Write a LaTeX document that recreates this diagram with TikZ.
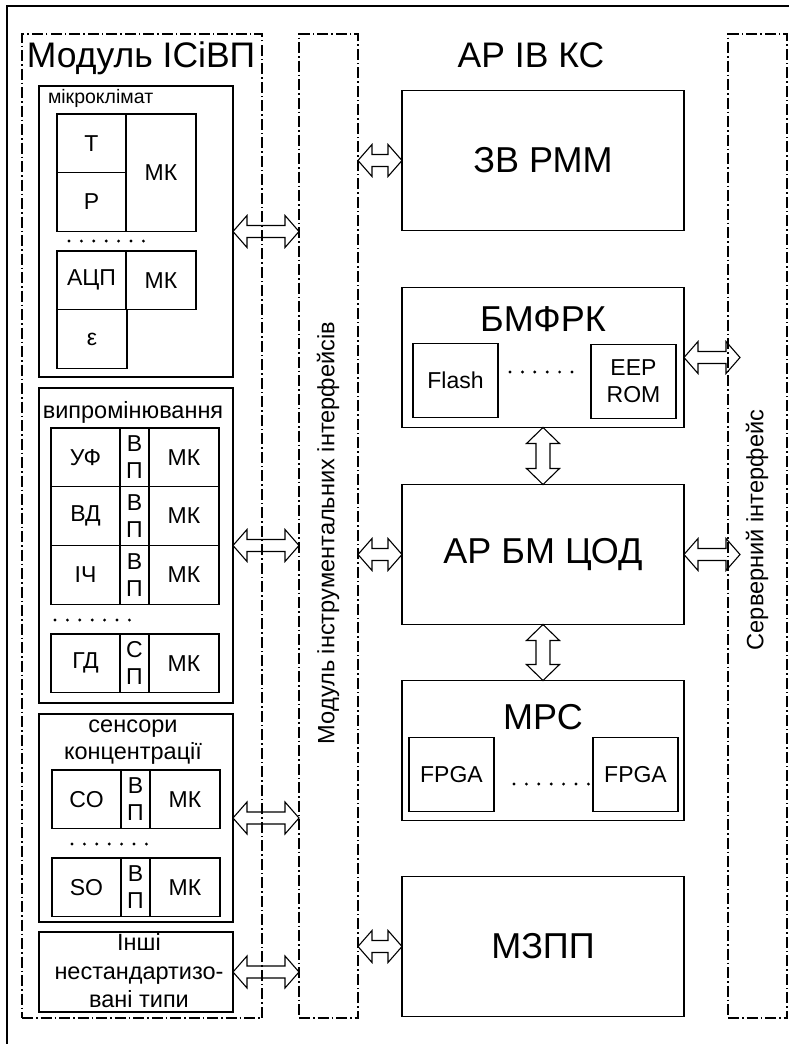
\documentclass[tikz,border=0pt]{standalone}
\usepackage{fontspec}
\setmainfont{Liberation Sans}
\usetikzlibrary{positioning, calc, fit}
\newcommand{\smallsz}{\fontsize{23pt}{27pt}\selectfont}
\newcommand{\grpsz}{\fontsize{23.5pt}{27pt}\selectfont}
\newcommand{\subsz}{\fontsize{23pt}{27pt}\selectfont}
\newcommand{\bigsz}{\fontsize{36pt}{40pt}\selectfont}
\newcommand{\titlesz}{\fontsize{35.5pt}{40pt}\selectfont}

% hollow double arrows: horizontal and vertical
\newcommand{\harr}[2]{%
  \draw[blk] let \p1=(#1), \p2=(#2) in
    (\x1,\y1) -- ++(14pt,16pt) -- ++(0pt,-10pt) -- (\x2-14pt,\y1+6pt)
    -- ++(0pt,10pt) -- (\x2,\y1) -- ++(-14pt,-16pt) -- ++(0pt,10pt)
    -- (\x1+14pt,\y1-6pt) -- ++(0pt,-10pt) -- cycle;}
\newcommand{\varr}[2]{%
  \draw[blk] let \p1=(#1), \p2=(#2) in
    (\x1,\y1) -- ++(16.5pt,-16pt) -- ++(-9.5pt,0pt) -- (\x1+7pt,\y2+16pt)
    -- ++(9.5pt,0pt) -- (\x1,\y2) -- ++(-16.5pt,16pt) -- ++(9.5pt,0pt)
    -- (\x1-7pt,\y1-16pt) -- ++(-9.5pt,0pt) -- cycle;}

\begin{document}
\begin{tikzpicture}[x=1pt, y=-1pt,
    every node/.style={inner sep=0pt, outer sep=0pt},
    frame/.style={draw, line width=1.1pt, dash pattern=on 11pt off 3pt on 1.5pt off 3pt},
    grp/.style={draw, line width=1.1pt},
    cell/.style={draw, line width=1.1pt, minimum height=58.7pt, font=\smallsz},
    vp/.style={cell, minimum width=29pt, align=center},
    bigbox/.style={draw, line width=1.1pt, minimum width=282pt, minimum height=140pt, font=\bigsz},
    sub/.style={draw, line width=1.1pt, minimum width=85pt, minimum height=74pt, font=\subsz, align=center},
    blk/.style={draw, line width=1.1pt},
    dots/.style={line width=3.2pt, line cap=round, dash pattern=on 0pt off 12.4pt}
]
    \useasboundingbox (0,0) rectangle (789,1044);
    \draw[line width=2.5pt] (7,1060) -- (7,6) -- (800,6);

    % dash-dot columns
    \node[frame, fit={(22,34) (262,1018)}] (isv) {};
    \node[frame, fit={(299,34) (358,1018)}] (mii) {};
    \node[frame, fit={(728,34) (787,1018)}] (srv) {};
    \node[font=\titlesz, anchor=west] (isvt) at (27,58) {Модуль ІСіВП};
    \node[font=\titlesz] (arivks) at (531,55) {АР ІВ КС};
    \node[font=\fontsize{23.6pt}{27pt}\selectfont, rotate=90] (miit) at (328,533) {Модуль інструментальних інтерфейсів};
    \node[font=\fontsize{23.6pt}{27pt}\selectfont, rotate=90] (srvt) at (757,530) {Серверний інтерфейс};

    % microclimate
    \node[grp, fit={(39,86) (233,377)}] (micro) {};
    \node[font=\fontsize{19.5pt}{22pt}\selectfont, anchor=west] (microt) at (48,98) {мікроклімат};
    \node[cell, minimum width=69pt, anchor=north west] (t) at (57,114) {Т};
    \node[cell, minimum width=69pt, below=0pt of t] (p) {Р};
    \node[cell, minimum width=70pt, minimum height=117.4pt, anchor=north west] (mk1) at (t.north east) {МК};
    \draw[dots] (69,241) -- (145,241);
    \node[cell, minimum width=69pt, anchor=north west] (adc) at (57,251) {АЦП};
    \node[cell, minimum width=70pt, right=0pt of adc] (mk2) {МК};
    \node[cell, minimum width=70pt, anchor=north west] (eps) at (adc.south west) {ε};

    % radiation
    \node[grp, fit={(39,388) (233,703)}] (rad) {};
    \node[font=\grpsz] (radt) at (133,412) {випромінювання};
    \node[cell, minimum width=69pt, anchor=north west] (uf) at (51,428) {УФ};
    \node[vp, right=0pt of uf] (ufvp) {В\\П};
    \node[cell, minimum width=70pt, right=0pt of ufvp] (ufmk) {МК};
    \node[cell, minimum width=69pt, below=0pt of uf] (vd) {ВД};
    \node[vp, right=0pt of vd] (vdvp) {В\\П};
    \node[cell, minimum width=70pt, right=0pt of vdvp] (vdmk) {МК};
    \node[cell, minimum width=69pt, below=0pt of vd] (ich) {ІЧ};
    \node[vp, right=0pt of ich] (ichvp) {В\\П};
    \node[cell, minimum width=70pt, right=0pt of ichvp] (ichmk) {МК};
    \draw[dots] (55,620) -- (130,620);
    \node[cell, minimum width=69pt, anchor=north west] (gd) at (51,634) {ГД};
    \node[vp, right=0pt of gd] (gdsp) {С\\П};
    \node[cell, minimum width=70pt, right=0pt of gdsp] (gdmk) {МК};

    % concentration sensors
    \node[grp, fit={(39,714) (233,922)}] (sens) {};
    \node[font=\grpsz, align=center, anchor=north] (senst) at (133,720) {сенсори\\концентрації};
    \node[cell, minimum width=69pt, anchor=north west] (co) at (52,770) {CO};
    \node[vp, right=0pt of co] (covp) {В\\П};
    \node[cell, minimum width=70pt, right=0pt of covp] (comk) {МК};
    \draw[dots] (72,844) -- (147,844);
    \node[cell, minimum width=69pt, anchor=north west] (so) at (52,858) {SO};
    \node[vp, right=0pt of so] (sovp) {В\\П};
    \node[cell, minimum width=70pt, right=0pt of sovp] (somk) {МК};

    % other types
    \node[grp, fit={(39,932) (233,1012)}] (other) {};
    \node[font=\fontsize{23.5pt}{28.5pt}\selectfont, align=center] (othert) at (139,971) {Інші\\нестандартизо-\\вані типи};

    % right part
    \node[bigbox] (zv) at (543,160.5) {ЗВ РММ};
    \node[bigbox, below=57pt of zv] (bm) {};
    \node[font=\bigsz] (bmt) at ($(bm.north)+(0,32)$) {БМФРК};
    \node[sub, anchor=south west] (flash) at ($(bm.south west)+(11,-10)$) {Flash};
    \node[sub, anchor=south east] (eeprom) at ($(bm.south east)+(-8,-9)$) {EEP\\ROM};
    \draw[dots] (510,372) -- (584,372);
    \node[bigbox, below=57pt of bm] (cod) {АР БМ ЦОД};
    \node[bigbox, below=56pt of cod] (mrs) {};
    \node[font=\bigsz] (mrst) at ($(mrs.north)+(0,37)$) {МРС};
    \node[sub, anchor=south west] (fpga1) at ($(mrs.south west)+(7,-9)$) {FPGA};
    \node[sub, anchor=south east] (fpga2) at ($(mrs.south east)+(-6,-9)$) {FPGA};
    \draw[dots] (514,784) -- (590,784);
    \node[bigbox, below=56pt of mrs] (mz) {МЗПП};

    % interfaces
    \harr{micro.east}{micro.east -| mii.west}
    \harr{rad.east}{rad.east -| mii.west}
    \harr{sens.east}{sens.east -| mii.west}
    \harr{other.east}{other.east -| mii.west}
    \harr{zv.west -| mii.east}{zv.west}
    \harr{cod.west -| mii.east}{cod.west}
    \harr{mz.west -| mii.east}{mz.west}
    \harr{bm.east}{$(bm.east -| srv.west)+(12,0)$}
    \harr{cod.east}{$(cod.east -| srv.west)+(12,0)$}
    \varr{bm.south}{cod.north}
    \varr{cod.south}{mrs.north}
\end{tikzpicture}
\end{document}
